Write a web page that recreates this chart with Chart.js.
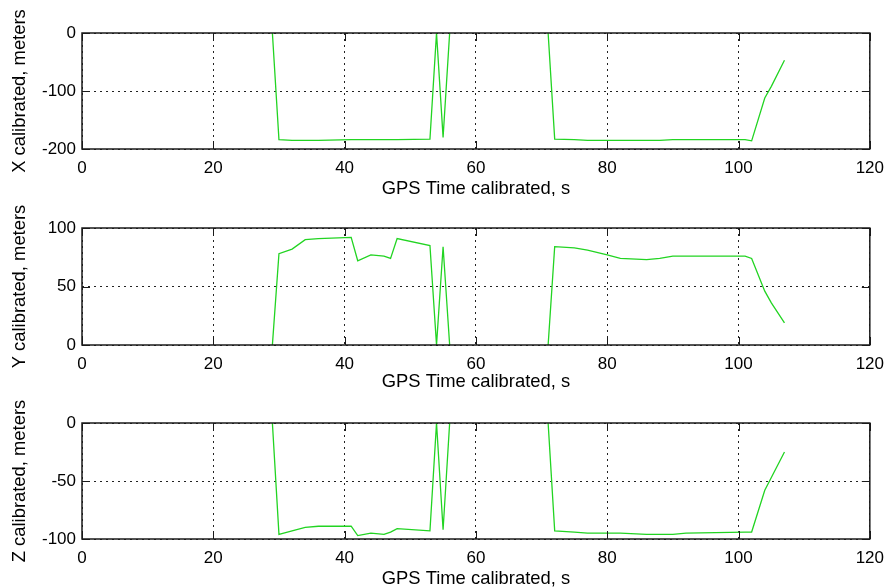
<!DOCTYPE html>
<html>
<head>
<meta charset="utf-8">
<script src="https://cdn.jsdelivr.net/npm/chart.js@4/dist/chart.umd.min.js"></script>
<style>
  body { margin: 0; background: #fff; width: 893px; height: 588px; overflow: hidden; position: relative; }
  canvas { position: absolute; left: 0; }
</style>
</head>
<body>
<canvas id="chartX" width="893" height="196" style="top:0px"></canvas>
<canvas id="chartY" width="893" height="196" style="top:196px"></canvas>
<canvas id="chartZ" width="893" height="196" style="top:392px"></canvas>
<script>
// GPS time, s (null entry breaks the line during the dropout)
const gpsTime = [29, 30, 32, 34, 36, 41, 42, 44, 46, 47, 48, 53, 54, 55, 56, 63, 71, 72, 75, 77, 80, 82, 86, 88, 90, 92, 101, 102, 104, 105, 107];
const xCal = [0, -184, -185, -185, -185, -184, -184, -184, -184, -184, -184, -183, 0, -180, 0, null, 0, -183, -184, -185, -185, -185, -185, -185, -184, -184, -184, -186, -112, -92, -47];
const yCal = [0, 78, 82, 90, 91, 92, 72, 77, 76, 74, 91, 85, 0, 84, 0, null, 0, 84, 83, 81, 77, 74, 73, 74, 76, 76, 76, 74, 46, 36, 19];
const zCal = [0, -96, -93, -90, -89, -89, -97, -95, -96, -94, -91, -93, 0, -92, 0, null, 0, -93, -94, -95, -95, -95, -96, -96, -96, -95, -94, -94, -58, -47, -25];

const timeTicks = [0, 20, 40, 60, 80, 100, 120];
const xTicks = [-200, -100, 0];
const yTicks = [0, 50, 100];
const zTicks = [-100, -50, 0];

const timeTitle = 'GPS Time calibrated, s';

// matlab style box with inward ticks on all sides
const boxPlugin = {
  id: 'box',
  afterDraw(chart) {
    const { ctx, chartArea: a, scales } = chart;
    ctx.save();
    ctx.strokeStyle = '#1a1a1a';
    ctx.lineWidth = 1;
    ctx.beginPath();
    scales.x.ticks.forEach(t => {
      const px = Math.round(scales.x.getPixelForValue(t.value)) + 0.5;
      ctx.moveTo(px, a.top); ctx.lineTo(px, a.top + 8);
      ctx.moveTo(px, a.bottom); ctx.lineTo(px, a.bottom - 8);
    });
    scales.y.ticks.forEach(t => {
      const py = Math.round(scales.y.getPixelForValue(t.value)) + 0.5;
      ctx.moveTo(a.left, py); ctx.lineTo(a.left + 8, py);
      ctx.moveTo(a.right, py); ctx.lineTo(a.right - 8, py);
    });
    ctx.stroke();
    ctx.lineWidth = 1.5;
    ctx.strokeRect(a.left, a.top, a.right - a.left, a.bottom - a.top);
    ctx.restore();
  }
};

const font = { family: '"Liberation Sans", Arial, sans-serif', size: 17 };
const titleFont = { family: '"Liberation Sans", Arial, sans-serif', size: 18.4, lineHeight: 1 };

function makePanel(id, values, ticks, yLabel, padTop, xAxisH, titlePad) {
  new Chart(document.getElementById(id), {
    type: 'line',
    data: {
      datasets: [{
        data: gpsTime.map((t, i) => ({ x: t, y: values[i] })),
        borderColor: '#22d422',
        borderWidth: 1.3,
        pointRadius: 0,
        tension: 0,
        spanGaps: false,
        clip: 0
      }]
    },
    options: {
      responsive: false,
      animation: false,
      devicePixelRatio: 1,
      layout: { padding: { top: padTop, right: 15, left: 0, bottom: 0 } },
      plugins: { legend: { display: false }, tooltip: { enabled: false } },
      events: [],
      scales: {
        x: {
          type: 'linear',
          min: timeTicks[0],
          max: timeTicks[timeTicks.length - 1],
          afterBuildTicks: s => { s.ticks = timeTicks.map(v => ({ value: v })); },
          afterFit: s => { s.height = xAxisH; },
          ticks: { color: '#000', font: font, padding: 9, autoSkip: false, maxRotation: 0 },
          grid: { color: '#222', lineWidth: 1, drawTicks: false },
          border: { display: false, dash: [2, 4] },
          title: { display: true, text: timeTitle, color: '#000', font: titleFont, padding: { top: 0, bottom: titlePad } }
        },
        y: {
          min: ticks[0],
          max: ticks[ticks.length - 1],
          afterBuildTicks: s => { s.ticks = ticks.map(v => ({ value: v })); },
          afterFit: s => { s.width = 82; },
          ticks: { color: '#000', font: font, padding: 6 },
          grid: { color: '#222', lineWidth: 1, drawTicks: false },
          border: { display: false, dash: [2, 4] },
          title: { display: true, text: yLabel, color: '#000', font: titleFont, padding: { top: 11, bottom: 0 } }
        }
      }
    },
    plugins: [boxPlugin]
  });
}

makePanel('chartX', xCal, xTicks, 'X calibrated, meters', 33, 47, -2);
makePanel('chartY', yCal, yTicks, 'Y calibrated, meters', 32, 47, 0.5);
makePanel('chartZ', zCal, zTicks, 'Z calibrated, meters', 31, 49, -0.5);
</script>
</body>
</html>
